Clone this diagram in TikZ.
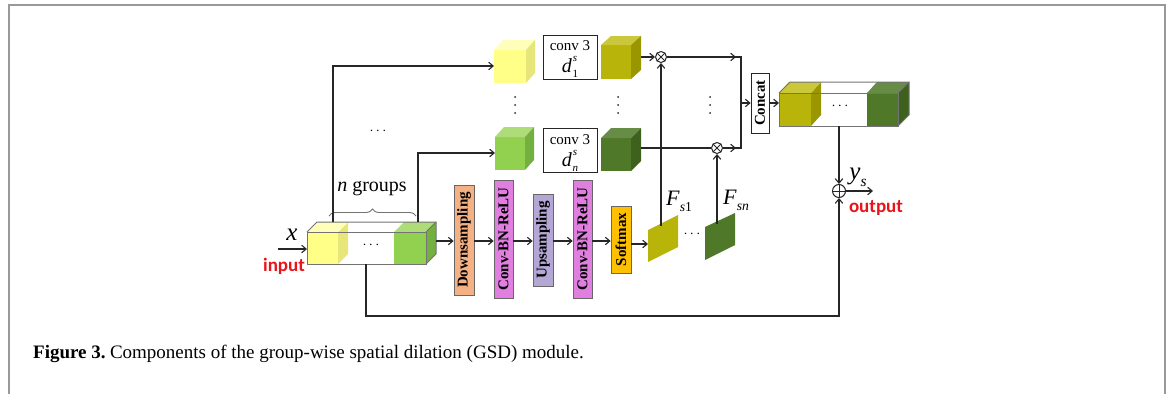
\documentclass[tikz,border=0pt]{standalone}
\usepackage{graphicx}
\usepackage{fontspec}
\setmainfont{Liberation Serif}
\newfontfamily\lblfont{Carlito}
\usetikzlibrary{arrows.meta,decorations.pathreplacing,calc}
\definecolor{ylwF}{HTML}{FFFF88}
\definecolor{ylwT}{HTML}{FFFFBB}
\definecolor{ylwS}{HTML}{E6E67A}
\definecolor{lgrF}{HTML}{92D050}
\definecolor{lgrT}{HTML}{ADDC78}
\definecolor{lgrS}{HTML}{74B040}
\definecolor{olvF}{HTML}{B8B40A}
\definecolor{olvT}{HTML}{CBC73A}
\definecolor{olvS}{HTML}{9A9600}
\definecolor{dgrF}{HTML}{4F7828}
\definecolor{dgrT}{HTML}{668C46}
\definecolor{dgrS}{HTML}{3E621E}
\definecolor{downC}{HTML}{F4B183}
\definecolor{convC}{HTML}{E07FE0}
\definecolor{upC}{HTML}{B4A7D6}
\definecolor{softC}{HTML}{FFC000}
\definecolor{lineC}{HTML}{262626}
\definecolor{redC}{HTML}{E8141A}
\newcommand\cubefaces[5]{%
  \fill[#2] (#1.north west) -- ++(#4,-#5) -- ([shift={(#4,-#5)}]#1.north east) -- (#1.north east) -- cycle;
  \fill[#3] (#1.north east) -- ++(#4,-#5) -- ([shift={(#4,-#5)}]#1.south east) -- (#1.south east) -- cycle;
}
\newcommand\subit[2]{\textit{#1}\raisebox{-0.28em}{\fontsize{0.62em}{0.62em}\selectfont #2}}
\begin{document}
\begin{tikzpicture}[x=1pt,y=-1pt,
  line/.style={line width=1.1pt, draw=lineC},
  arr/.style={line, -{Straight Barb[length=4.5pt,width=7.5pt]}},
  cubefront/.style={inner sep=0pt, outer sep=0pt},
  convbox/.style={draw=lineC, line width=0.9pt, fill=white, inner sep=0pt, minimum width=54pt, minimum height=44pt},
  convtxt/.style={inner sep=0pt, font=\fontsize{15}{17}\selectfont},
  dtxt/.style={inner sep=0pt, font=\fontsize{20}{22}\selectfont},
  stage/.style={draw=lineC!70, line width=0.7pt, inner sep=0pt, minimum width=20pt, font=\fontsize{15}{17}\selectfont\bfseries},
  opcirc/.style={circle, draw=lineC, line width=1pt, inner sep=0pt},
  edge/.style={draw=black!55, line width=1pt}
]
\useasboundingbox (0,0) rectangle (1171,394);
% frame
\draw[black!40, line width=1.6pt] (9,394) -- (9,5) -- (1165,5) -- (1165,394);

% ---------- input long box ----------
\node[cubefront, minimum width=119pt, minimum height=32pt] (inbox) at (366.5,248) {};
\fill[ylwF] (307,232) rectangle (338,264);
\fill[ylwS] (338,232) -- (348,222) -- (348,254) -- (338,264) -- cycle;
\fill[ylwT] (307,232) -- (317,222) -- (348,222) -- (338,232) -- cycle;
\fill[lgrF] (394,232) rectangle (426,264);
\fill[lgrT] (394,232) -- (404,222) -- (436,222) -- (426,232) -- cycle;
\fill[lgrS] (426,232) -- (436,222) -- (436,254) -- (426,264) -- cycle;
\draw[edge] (inbox.south west) rectangle (inbox.north east);
\draw[edge] (inbox.north west) -- ++(10,-10) -- ([shift={(10,-10)}]inbox.north east) -- ([shift={(10,-10)}]inbox.south east) -- (inbox.south east);
\draw[edge] ([shift={(10,-10)}]inbox.north east) -- (inbox.north east);
\node[font=\fontsize{15}{17}\selectfont] (indots) at (371,245) {$\cdots$};

% input arrow and labels
\coordinate (xin) at (278,249);
\draw[arr] (xin) -- (inbox.west |- xin);
\node[font=\fontsize{25}{26}\selectfont\itshape] (xlbl) at (292,235) {x};
\node[font=\lblfont\bfseries\fontsize{19}{21}\selectfont, text=redC] (inlbl) at (284,266) {input};

% brace and n groups
\draw[black!55, line width=0.9pt, decorate, decoration={brace, amplitude=7pt}] (329,216) -- (416,216);
\node[font=\fontsize{20}{22}\selectfont] (ngrp) at (372,189) {\textit{n} groups};
\node[font=\fontsize{15}{17}\selectfont] (hdots) at (378,131) {$\cdots$};

% ---------- branch 1 ----------
\node[cubefront, fill=ylwF, minimum width=32pt, minimum height=33pt] (c1) at (510,66.5) {};
\cubefaces{c1}{ylwT}{ylwS}{9}{10}
\node[convbox] (k1) at (570,57) {};
\node[convtxt] (k1a) at ([yshift=11pt]k1.center) {conv 3};
\node[dtxt] (k1b) at ([yshift=-10pt]k1.center) {\textit{d}\raisebox{0.55em}{\fontsize{11}{11}\selectfont\kern1pt\textit{s}}\kern-4.5pt\raisebox{-0.25em}{\fontsize{11}{11}\selectfont 1}};
\node[cubefront, fill=olvF, minimum width=30pt, minimum height=34pt] (o1) at (616,62) {};
\cubefaces{o1}{olvT}{olvS}{10}{9}

% ---------- branch n ----------
\node[cubefront, fill=lgrF, minimum width=30pt, minimum height=33pt] (cn) at (510,153.5) {};
\cubefaces{cn}{lgrT}{lgrS}{9}{10}
\node[convbox] (kn) at (570,150.5) {};
\node[convtxt] (kna) at ([yshift=11pt]kn.center) {conv 3};
\node[dtxt] (knb) at ([yshift=-10pt]kn.center) {\textit{d}\raisebox{0.55em}{\fontsize{11}{11}\selectfont\kern1pt\textit{s}}\kern-4.5pt\raisebox{-0.25em}{\fontsize{11}{11}\selectfont\textit{n}}};
\node[cubefront, fill=dgrF, minimum width=30pt, minimum height=33pt] (on) at (616,154.5) {};
\cubefaces{on}{dgrT}{dgrS}{10}{10}

% vertical dots
\foreach \xx in {515,618,710}{
  \foreach \yy in {97,105,113}{ \fill[lineC] (\xx,\yy) circle (1pt); }
}

% feeds from input box
\coordinate (t1) at (333,222);
\coordinate (tn) at (418,222);
\draw[arr] (t1) |- (c1.west |- 0,66);
\draw[arr] (tn) |- (cn.west |- 0,153);

% ---------- multiplications ----------
\node[opcirc, minimum size=11pt] (m1) at (661,57) {};
\draw[lineC, line width=0.9pt] (m1.north west) -- (m1.south east) (m1.north east) -- (m1.south west);
\node[opcirc, minimum size=11pt] (mn) at (717,148) {};
\draw[lineC, line width=0.9pt] (mn.north west) -- (mn.south east) (mn.north east) -- (mn.south west);

\coordinate (o1e) at (641,57);
\coordinate (one) at (641,148);
\draw[arr] (o1e) -- (m1.west);
\draw[line] (one) -- (mn.west);

\coordinate (j1) at (741,57);
\coordinate (jn) at (741,148);
\coordinate (jm) at (741,103);
\draw[arr] (m1.east) -- (736,57);
\draw[arr] (mn.east) -- (736,148);
\draw[line] (735,57) -- (j1) -- (jn) -- (735,148);

% concat
\node[stage, draw=lineC, fill=white, minimum width=18pt, minimum height=60pt] (cat) at (760,103) {\rotatebox{90}{Concat}};
\draw[arr] (jm) -- (cat.west);

% ---------- output long box ----------
\node[cubefront, minimum width=119pt, minimum height=33pt] (outbox) at (838.5,109.5) {};
\fill[olvF] (779,93) rectangle (811,126);
\fill[olvS] (811,93) -- (821,82) -- (821,115) -- (811,126) -- cycle;
\fill[olvT] (779,93) -- (789,82) -- (821,82) -- (811,93) -- cycle;
\fill[dgrF] (867,93) rectangle (898,126);
\fill[dgrT] (867,93) -- (877,82) -- (909,82) -- (898,93) -- cycle;
\fill[dgrS] (898,93) -- (909,82) -- (909,115) -- (898,126) -- cycle;
\draw[edge] (outbox.south west) rectangle (outbox.north east);
\draw[edge] (outbox.north west) -- ++(11,-11) -- ([shift={(11,-11)}]outbox.north east) -- ([shift={(11,-11)}]outbox.south east) -- (outbox.south east);
\draw[edge] ([shift={(11,-11)}]outbox.north east) -- (outbox.north east);
\node[font=\fontsize{15}{17}\selectfont] (outdots) at (840,106) {$\cdots$};
\draw[arr] (cat.east) -- (outbox.west |- cat.east);

% addition
\node[opcirc, minimum size=13pt] (ad) at (839,191) {};
\draw[lineC, line width=0.9pt] (ad.north) -- (ad.south) (ad.west) -- (ad.east);
\draw[arr] (outbox.south -| ad) -- (ad.north);
\coordinate (yout) at (873,191);
\draw[arr] (ad.east) -- (yout);
\node[font=\fontsize{25}{26}\selectfont] (ylbl) at (858,177) {\subit{y}{\textit{s}}};
\node[font=\lblfont\bfseries\fontsize{19}{21}\selectfont, text=redC] (outlbl) at (876,208) {output};

% skip connection
\coordinate (sk) at (366,316);
\draw[arr] (inbox.south -| sk) -- (sk) -| (ad.south);

% ---------- attention pipeline ----------
\node[stage, fill=downC, minimum height=110pt] (down) at (464,240) {\rotatebox{90}{Downsampling}};
\node[stage, fill=convC, minimum width=19pt, minimum height=118pt] (cv1) at (503.5,239) {\rotatebox{90}{Conv-BN-ReLU}};
\node[stage, fill=upC, minimum height=92pt] (up) at (543,240) {\rotatebox{90}{Upsampling}};
\node[stage, fill=convC, minimum width=19pt, minimum height=118pt] (cv2) at (582.5,239) {\rotatebox{90}{Conv-BN-ReLU}};
\node[stage, fill=softC, minimum height=67pt] (soft) at (621,239.5) {\rotatebox{90}{Softmax}};

\coordinate (inside) at (436,241);
\draw[arr] (inside) -- (down.west |- inside);
\draw[arr] (down.east |- inside) -- (cv1.west |- inside);
\draw[arr] (cv1.east |- inside) -- (up.west |- inside);
\draw[arr] (up.east |- inside) -- (cv2.west |- inside);
\draw[arr] (cv2.east |- inside) -- (soft.west |- inside);

% attention maps
\coordinate (p1) at (663,238.5);
\fill[olvF] (648,230) -- (678,215) -- (678,247) -- (648,262) -- cycle;
\coordinate (pn) at (720,236.5);
\fill[dgrF] (705,227) -- (735,213) -- (735,245) -- (705,260) -- cycle;
\draw[arr] (soft.east |- 0,244) -- (648,244);
\node[font=\fontsize{15}{17}\selectfont] (pdots) at (692,234) {$\cdots$};
\coordinate (p1t) at (661,226);
\coordinate (pnt) at (717,224);
\draw[arr] (p1t) -- (m1.south);
\draw[arr] (pnt) -- (mn.south);
\node[font=\fontsize{22}{23}\selectfont] (fs1) at (679,201) {\subit{F}{\textit{s}1}};
\node[font=\fontsize{22}{23}\selectfont] (fsn) at (736,200) {\subit{F}{\textit{sn}}};

% caption
\node[anchor=base west, inner sep=0pt, font=\fontsize{19}{21}\selectfont] (cap) at (33,358) {\textbf{Figure 3.}\hspace{-2pt} Components of the group-wise spatial dilation (GSD) module.};
\end{tikzpicture}
\end{document}
